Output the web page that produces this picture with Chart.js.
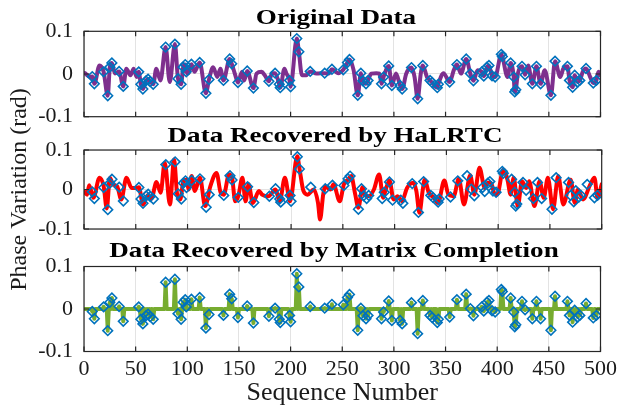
<!DOCTYPE html>
<html>
<head>
<meta charset="utf-8">
<title>Phase variation: original and recovered data</title>
<script src="https://cdn.jsdelivr.net/npm/chart.js@4.4.0/dist/chart.umd.min.js"></script>
<style>
  html, body { margin: 0; padding: 0; background: #ffffff; }
  #wrap { position: relative; width: 622px; height: 411px; }
  #wrap canvas { position: absolute; left: 0; top: 0; }
</style>
</head>
<body>
<div id="wrap">
  <canvas id="c1" width="622" height="411"></canvas>
  <canvas id="c2" width="622" height="411"></canvas>
  <canvas id="c3" width="622" height="411"></canvas>
</div>
<script>
// Axis ticks
const xTicks = [0, 50, 100, 150, 200, 250, 300, 350, 400, 450, 500];
const yTicks = [-0.1, 0, 0.1];
const yTickLabels = ['-0.1', '0', '0.1'];

// Observed samples (diamond markers)
const obsSeq = [8, 10, 19, 23, 25, 27, 34, 38, 53, 55, 57, 60, 62, 64, 67, 79, 88, 91, 94, 96, 98, 99,
  104, 112, 118, 121, 135, 141, 143, 149, 158, 164, 179, 185, 189, 190, 199, 200, 206, 208, 219,
  233, 240, 251, 255, 257, 265, 268, 270, 273, 275, 288, 290, 295, 298, 306, 308, 317, 323, 328,
  335, 337, 342, 343, 354, 361, 370, 374, 377, 385, 387, 390, 392, 395, 398, 404, 405, 413, 416,
  417, 418, 424, 427, 434, 438, 442, 452, 456, 468, 470, 473, 475, 478, 480, 486, 493, 496];
const obsVal = [-0.006, -0.023, 0.005, -0.051, 0.016, 0.026, 0.006, -0.029, 0.005, -0.024, -0.035,
  -0.016, -0.012, -0.018, -0.024, 0.063, 0.070, -0.011, -0.024, 0.016, 0.022, 0.005,
  0.023, 0.027, -0.045, -0.013, -0.015, 0.035, 0.024, -0.020, 0.007, -0.033, -0.017, 0.002, -0.024,
  -0.032, -0.015, -0.030, 0.083, 0.052, 0.006,
  0.002, 0.011, 0.010, 0.027, 0.034, -0.050, 0.002, -0.016, -0.023, -0.015, -0.023, -0.007, 0.019,
  -0.027, -0.027, -0.035, 0.015, -0.058, 0.020,
  -0.015, -0.020, -0.032, -0.024, -0.019, 0.022, 0.035, 0.001, -0.016, 0.005, -0.005, 0.016, 0.020,
  -0.004, -0.007, 0.046, 0.041, 0.026, -0.007,
  -0.042, -0.037, 0.018, -0.002, -0.023, 0.018, -0.023, -0.050, 0.030, 0.018, -0.015, -0.031, -0.003,
  -0.019, -0.015, 0.013, -0.021, -0.015];

// Original sequence between the observed samples
const origSeq = [1, 6, 15, 30, 41, 45, 48, 51, 70, 74, 83, 101, 107, 125, 129, 132, 146, 153, 155,
  167, 172, 175, 182, 194, 196, 211, 215, 225, 237, 246, 261, 278, 283, 286, 302, 312, 320, 326,
  332, 348, 358, 365, 381, 410, 420, 430, 446, 461, 464, 483, 490, 498, 500];
const origVal = [0.002, -0.007, 0.020, 0.001, 0.0125, -0.003, 0.0125, -0.007, 0.0125, -0.015, -0.019,
  0.001, 0.005, 0.016, -0.007, 0.0125, 0.001, 0.005, -0.015,
  0.001, 0.005, -0.003, 0.002, 0.0125, 0.001, -0.003, -0.003, 0.001, 0.001, 0.002, 0.009, 0.001,
  0.002, 0.001, 0.001, 0.001, -0.007, 0.001,
  -0.007, 0.002, 0.009, 0.001, 0.009, -0.007, 0.001, 0.020, 0.009, -0.007, 0.0125, 0.006, -0.007,
  0.005, -0.003];

// Sequence recovered by HaLRTC
const haSeq = [0, 3, 5, 9, 15, 19, 22, 25, 28, 32, 36, 41, 46, 51, 53, 57, 62, 65, 70, 74, 78, 83,
  87, 90, 93, 96, 99, 101, 104, 107, 112, 117, 122, 128, 132, 135, 140, 143, 146, 149, 153, 156,
  159, 163, 169, 172, 178, 185, 189, 194, 199, 206, 208, 212, 216, 222, 226, 228, 231, 233, 238,
  241, 247, 251, 255, 258, 262, 265, 269, 271, 275, 280, 285, 289, 291, 295, 299, 303, 307, 312,
  318, 321, 324, 327, 329, 333, 338, 342, 348, 352, 357, 362, 367, 373, 377, 382, 387, 390, 393,
  396, 399, 405, 409, 412, 415, 419, 423, 427, 430, 435, 440, 444, 448, 453, 458, 463, 470, 474,
  477, 482, 489, 493, 496, 500];
const haVal = [-0.004, -0.013, 0.011, -0.021, 0.030, 0.008, -0.048, 0.030, 0.013, 0.008, -0.025,
  0.030, 0.004, 0.004, 0.006, -0.038, -0.013, -0.024, 0.019, -0.008, 0.068, -0.038,
  0.076, -0.013, -0.025, 0.021, 0.025, 0.000, 0.034, -0.004, 0.030, -0.042, 0.008, 0.042, -0.008,
  -0.013, 0.038, 0.030, -0.030, -0.017, 0.030, -0.030,
  0.013, -0.034, -0.004, -0.013, -0.017, 0.000, -0.030, 0.030, -0.030, 0.084, 0.055, -0.004,
  -0.013, 0.000, -0.034, -0.076, -0.013, 0.008, 0.000,
  0.013, -0.030, 0.013, 0.025, 0.034, -0.013, -0.046, 0.006, -0.013, -0.017, 0.000, 0.038, -0.021,
  -0.004, 0.023, -0.025, -0.017, -0.030, 0.004,
  0.017, -0.004, -0.059, -0.004, 0.025, -0.008, -0.021, -0.034, 0.023, -0.013, -0.017, 0.027,
  -0.038, 0.036, -0.013, 0.055, 0.004, 0.017, 0.017,
  -0.008, -0.013, 0.050, 0.025, -0.013, 0.030, -0.042, 0.021, 0.004, 0.021, -0.042, 0.021, -0.021,
  0.030, -0.050, 0.034, -0.038, 0.025, -0.034,
  0.000, -0.025, 0.013, 0.030, -0.021, 0.013];

const SERIF = '"Liberation Serif", "Times New Roman", Times, serif';
const INK = '#1a1a1a';
const GRID = '#e3e3e3';

const toPts = (xs, ys) => xs.map((x, i) => ({ x: x, y: ys[i] }));
const obsPts = toPts(obsSeq, obsVal);
const origPts = toPts(obsSeq, obsVal).concat(toPts(origSeq, origVal)).sort((a, b) => a.x - b.x);
const haPts = toPts(haSeq, haVal);

// Matrix completion: baseline at zero, spiking to each observed sample
const mcPts = (() => {
  const seen = new Set(obsSeq);
  const pts = [{ x: 0, y: 0 }];
  obsSeq.forEach((s, i) => {
    if (!seen.has(s - 1)) pts.push({ x: s - 1, y: 0 });
    pts.push({ x: s, y: obsVal[i] });
    if (!seen.has(s + 1)) pts.push({ x: s + 1, y: 0 });
  });
  pts.push({ x: 500, y: 0 });
  return pts;
})();

// Axes box with inward tick marks on all four sides
const frame = {
  id: 'frame',
  afterDatasetsDraw(chart) {
    const { ctx, chartArea: a, scales } = chart;
    ctx.save();
    ctx.strokeStyle = '#262626';
    ctx.lineWidth = 1.2;
    ctx.strokeRect(a.left, a.top, a.right - a.left, a.bottom - a.top);
    ctx.beginPath();
    xTicks.forEach(v => {
      const px = scales.x.getPixelForValue(v);
      ctx.moveTo(px, a.bottom); ctx.lineTo(px, a.bottom - 5);
      ctx.moveTo(px, a.top); ctx.lineTo(px, a.top + 5);
    });
    yTicks.forEach(v => {
      const py = scales.y.getPixelForValue(v);
      ctx.moveTo(a.left, py); ctx.lineTo(a.left + 5, py);
      ctx.moveTo(a.right, py); ctx.lineTo(a.right - 5, py);
    });
    ctx.stroke();
    ctx.restore();
  }
};

// Bold panel heading above each axes box
const caption = {
  id: 'caption',
  afterDraw(chart, args, o) {
    const ctx = chart.ctx;
    ctx.save();
    ctx.font = 'bold ' + o.size + 'px ' + SERIF;
    ctx.fillStyle = '#000000';
    ctx.textAlign = 'center';
    ctx.textBaseline = 'alphabetic';
    ctx.translate(o.x, o.y);
    ctx.scale(o.stretch, 1);
    ctx.fillText(o.text, 0, 0);
    ctx.restore();
  }
};

function makePanel(id, cfg) {
  const markers = {
    data: obsPts,
    showLine: false,
    pointStyle: 'rectRot',
    pointRadius: 4.8,
    pointBorderWidth: 1.6,
    pointBorderColor: '#0072BD',
    pointBackgroundColor: 'rgba(0,0,0,0)',
    order: 0
  };
  const line = {
    data: cfg.points,
    borderColor: cfg.color,
    borderWidth: 4,
    borderJoinStyle: 'round',
    borderCapStyle: 'round',
    pointRadius: 0,
    cubicInterpolationMode: cfg.smooth ? 'monotone' : 'default',
    tension: 0,
    order: 1
  };
  return new Chart(document.getElementById(id), {
    type: 'line',
    data: { datasets: [markers, line] },
    options: {
      responsive: false,
      maintainAspectRatio: false,
      animation: false,
      devicePixelRatio: 1,
      layout: { padding: cfg.pad },
      scales: {
        x: {
          type: 'linear', min: 0, max: 500,
          afterBuildTicks: s => { s.ticks = xTicks.map(v => ({ value: v })); },
          afterFit: s => { s.height = cfg.xHeight; },
          ticks: {
            display: cfg.showX, autoSkip: false, maxRotation: 0, padding: 5,
            color: INK, font: { family: SERIF, size: 22 }
          },
          grid: { color: GRID, lineWidth: 1, drawTicks: false },
          border: { display: false },
          title: {
            display: cfg.showX, text: 'Sequence Number', color: INK,
            font: { family: SERIF, size: 26 }, padding: { top: 0, bottom: 2 }
          }
        },
        y: {
          min: -0.1, max: 0.1,
          afterBuildTicks: s => { s.ticks = yTicks.map(v => ({ value: v })); },
          afterFit: s => { s.width = 84; },
          ticks: {
            padding: 11, color: INK, font: { family: SERIF, size: 22 },
            callback: (v) => yTickLabels[yTicks.indexOf(v)]
          },
          grid: { color: GRID, lineWidth: 1, drawTicks: false },
          border: { display: false },
          title: {
            display: cfg.showY, text: 'Phase Variation (rad)', color: INK,
            font: { family: SERIF, size: 24 }, padding: { top: 5.5, bottom: 0 }
          }
        }
      },
      plugins: {
        legend: { display: false },
        tooltip: { enabled: false },
        caption: { text: cfg.title, x: cfg.titleX, y: cfg.titleY, size: 21.5, stretch: 1.26 }
      }
    },
    plugins: [frame, caption]
  });
}

makePanel('c1', {
  points: origPts, color: '#7E2F8E', smooth: true,
  pad: { top: 31.3, right: 21.5, bottom: 294.3, left: 0 }, xHeight: 0,
  showX: false, showY: false,
  title: 'Original Data', titleX: 336, titleY: 24
});
makePanel('c2', {
  points: haPts, color: '#FF0000', smooth: true,
  pad: { top: 150, right: 20.3, bottom: 182, left: 0 }, xHeight: 0,
  showX: false, showY: true,
  title: 'Data Recovered by HaLRTC', titleX: 335, titleY: 141.5
});
makePanel('c3', {
  points: mcPts, color: '#77AC30', smooth: false,
  pad: { top: 266.5, right: 19.3, bottom: 0, left: 0 }, xHeight: 59.5,
  showX: true, showY: false,
  title: 'Data Recovered by Matrix Completion', titleX: 334, titleY: 257
});
</script>
</body>
</html>
